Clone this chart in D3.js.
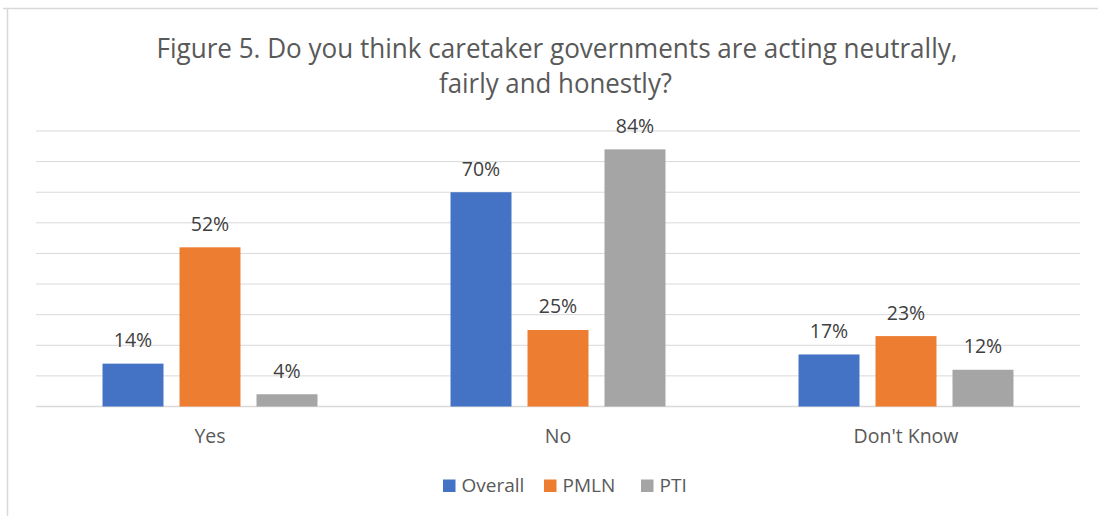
<!DOCTYPE html>
<html>
<head>
<meta charset="utf-8">
<script src="https://cdn.jsdelivr.net/npm/d3@7"></script>
<style>
  html, body { margin: 0; padding: 0; background: #fff; }
  svg { display: block; }
  text { font-family: "Open Sans", "Noto Sans", sans-serif; }
</style>
</head>
<body>
<svg id="chart" width="1098" height="516"></svg>
<script>
const categories = ["Yes", "No", "Don't Know"];
const seriesNames = ["Overall", "PMLN", "PTI"];
const overall = [14, 70, 17];
const pmln = [52, 25, 23];
const pti = [4, 84, 12];
const yTicks = [0, 10, 20, 30, 40, 50, 60, 70, 80, 90];
const titleLines = ["Figure 5. Do you think caretaker governments are acting neutrally,", "fairly and honestly?"];
const colors = ["#4472C4", "#ED7D31", "#A5A5A5"];

const seriesValues = [overall, pmln, pti];
const svg = d3.select("#chart");

// chart frame
svg.append("line").attr("x1", 3).attr("x2", 1098).attr("y1", 8.5).attr("y2", 8.5)
  .attr("stroke", "#D9D9D9").attr("stroke-width", 1.5);
svg.append("line").attr("x1", 7.5).attr("x2", 7.5).attr("y1", 8).attr("y2", 516)
  .attr("stroke", "#D9D9D9").attr("stroke-width", 1.5);

const plot = { left: 36, right: 1080, top: 131, bottom: 406.5 };

const x0 = d3.scaleBand().domain(categories).range([plot.left, plot.right]).paddingInner(0).paddingOuter(0);
const x1 = d3.scaleBand().domain(seriesNames).range([0, x0.bandwidth()]).paddingInner(0.208).paddingOuter(0.864);
const y = d3.scaleLinear().domain([0, 90]).range([plot.bottom, plot.top]);

// gridlines
svg.append("g").selectAll("line").data(yTicks).join("line")
  .attr("x1", plot.left).attr("x2", plot.right)
  .attr("y1", d => y(d)).attr("y2", d => y(d))
  .attr("stroke", "#D9D9D9").attr("stroke-width", d => d === 0 ? 1.5 : 1);

// bars
const groups = svg.append("g").selectAll("g").data(categories).join("g")
  .attr("transform", d => `translate(${x0(d)},0)`);

groups.selectAll("rect").data((c, i) => seriesNames.map((s, j) => ({ s, v: seriesValues[j][i], j })))
  .join("rect")
  .attr("x", d => x1(d.s)).attr("width", x1.bandwidth())
  .attr("y", d => y(d.v)).attr("height", d => y(0) - y(d.v))
  .attr("fill", d => colors[d.j]);

groups.selectAll("text.lbl").data((c, i) => seriesNames.map((s, j) => ({ s, v: seriesValues[j][i], j })))
  .join("text").attr("class", "lbl")
  .attr("x", d => x1(d.s) + x1.bandwidth() / 2)
  .attr("y", d => y(d.v) - 16.5)
  .attr("text-anchor", "middle")
  .attr("font-size", 19.5).attr("fill", "#404040")
  .text(d => d.v + "%");

// x axis labels
svg.append("g").selectAll("text").data(categories).join("text")
  .attr("x", d => x0(d) + x0.bandwidth() / 2).attr("y", 442.5)
  .attr("text-anchor", "middle").attr("font-size", 19.5).attr("fill", "#595959")
  .text(d => d);

// title
const titleWidths = [801, 233];
svg.append("g").selectAll("text").data(titleLines).join("text")
  .attr("x", (d, i) => i === 0 ? 557 : 555.5)
  .attr("y", (d, i) => i === 0 ? 57.5 : 92.5)
  .attr("text-anchor", "middle").attr("font-size", 27).attr("fill", "#595959")
  .attr("textLength", (d, i) => titleWidths[i]).attr("lengthAdjust", "spacingAndGlyphs")
  .text(d => d);

// legend
const legendX = [443, 544, 641];
const legend = svg.append("g").selectAll("g").data(seriesNames).join("g")
  .attr("transform", (d, i) => `translate(${legendX[i]},479.5)`);
legend.append("rect").attr("width", 12.5).attr("height", 12.5).attr("fill", (d, i) => colors[i]);
legend.append("text").attr("x", 18.5).attr("y", 12.5).attr("font-size", 19).attr("fill", "#595959").text(d => d);
</script>
</body>
</html>
